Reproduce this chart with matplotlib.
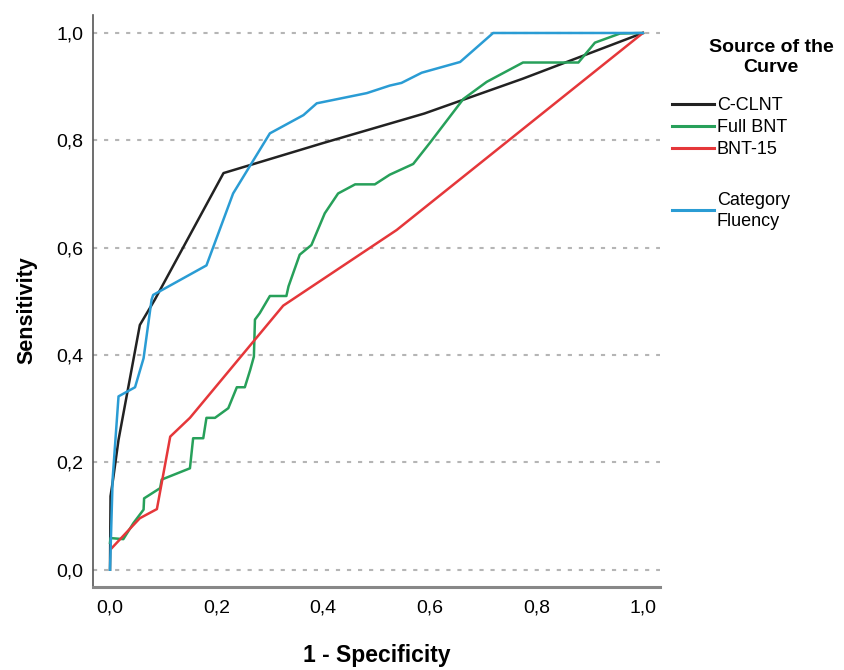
import matplotlib
matplotlib.use("Agg")
import matplotlib.pyplot as plt
from matplotlib.lines import Line2D

plt.rcParams['font.family'] = ['Liberation Sans', 'DejaVu Sans']

# ROC curves, (1 - specificity, sensitivity)
cclnt_x = [0.0, 0.001, 0.006, 0.016, 0.056, 0.084, 0.213, 0.40, 0.59, 0.775, 1.0]
cclnt_y = [0.0, 0.137, 0.17, 0.242, 0.456, 0.503, 0.739, 0.795, 0.85, 0.915, 1.0]

fullbnt_x = [0.0, 0.001, 0.025, 0.044, 0.063, 0.064, 0.094, 0.097, 0.150, 0.156, 0.175,
             0.181, 0.197, 0.222, 0.238, 0.253, 0.263, 0.270, 0.272, 0.281, 0.300, 0.331,
             0.335, 0.356, 0.378, 0.403, 0.428, 0.460, 0.497, 0.525, 0.569, 0.600, 0.663,
             0.707, 0.775, 0.879, 0.910, 0.957, 1.0]
fullbnt_y = [0.05, 0.059, 0.057, 0.087, 0.112, 0.133, 0.152, 0.168, 0.189, 0.245, 0.245,
             0.283, 0.283, 0.301, 0.340, 0.340, 0.372, 0.397, 0.466, 0.478, 0.510, 0.510,
             0.528, 0.587, 0.605, 0.664, 0.701, 0.718, 0.718, 0.736, 0.756, 0.795, 0.877,
             0.909, 0.945, 0.945, 0.982, 0.999, 1.0]

bnt15_x = [0.003, 0.056, 0.088, 0.113, 0.150, 0.325, 0.538, 1.0]
bnt15_y = [0.040, 0.096, 0.113, 0.248, 0.283, 0.492, 0.633, 1.0]

fluency_x = [0.0, 0.005, 0.016, 0.047, 0.063, 0.078, 0.081, 0.181, 0.231, 0.300, 0.363,
             0.388, 0.482, 0.525, 0.547, 0.585, 0.657, 0.719, 1.0]
fluency_y = [0.0, 0.17, 0.323, 0.340, 0.394, 0.503, 0.512, 0.567, 0.701, 0.813, 0.847,
             0.869, 0.888, 0.902, 0.907, 0.926, 0.946, 1.0, 1.0]

labels = ["C-CLNT", "Full BNT", "BNT-15", "Category\nFluency"]
colors = ["#222222", "#27a05a", "#e5373a", "#2a9cd4"]
ticks = [0.0, 0.2, 0.4, 0.6, 0.8, 1.0]
tick_labels = ["0,0", "0,2", "0,4", "0,6", "0,8", "1,0"]

W, H = 845, 670
fig = plt.figure(figsize=(W / 100, H / 100), dpi=100)
ax = fig.add_axes([0.110, 0.124, 0.671, 0.854])

series = [(cclnt_x, cclnt_y), (fullbnt_x, fullbnt_y), (bnt15_x, bnt15_y), (fluency_x, fluency_y)]
for (xs, ys), col in zip(series, colors):
    ax.plot(xs, ys, color=col, lw=1.8)

ax.set_xlim(-0.032, 1.032)
ax.set_ylim(-0.032, 1.034)
ax.set_xticks(ticks)
ax.set_xticklabels(tick_labels, fontsize=14)
ax.set_yticks(ticks)
ax.set_yticklabels(tick_labels, fontsize=14)
ax.tick_params(length=0)
ax.tick_params(axis="x", pad=9)
ax.tick_params(axis="y", pad=7)
ax.yaxis.grid(True, color="#b5b5b5", linestyle=(0, (2, 3.3)), lw=1.5)
ax.set_axisbelow(True)

for s in ["top", "right"]:
    ax.spines[s].set_visible(False)
ax.spines["left"].set_color("#555555")
ax.spines["left"].set_linewidth(1.2)
ax.spines["bottom"].set_color("#888888")
ax.spines["bottom"].set_linewidth(2.2)

ax.set_xlabel("1 - Specificity", fontsize=16.5, fontweight="bold", labelpad=20)
ax.set_ylabel("Sensitivity", fontsize=15.5, fontweight="bold")
ax.yaxis.set_label_coords(-0.098, 0.484)

# legend, laid out by hand in figure pixels (from top)
def fy(py):
    return 1 - py / H

fig.text(771 / W, fy(48), "Source of the", ha="center", va="center",
         fontsize=14, fontweight="bold")
fig.text(771 / W, fy(67), "Curve", ha="center", va="center",
         fontsize=14, fontweight="bold")
handle_y = [104, 126, 148, 210]
for lab, col, py in zip(labels, colors, handle_y):
    fig.add_artist(Line2D([672 / W, 714 / W], [fy(py), fy(py)], color=col, lw=2.2,
                          transform=fig.transFigure))
    fig.text(717 / W, fy(py + 1), lab, ha="left", va="center", fontsize=13,
             linespacing=1.35)

fig.savefig("out.png", dpi=100)
